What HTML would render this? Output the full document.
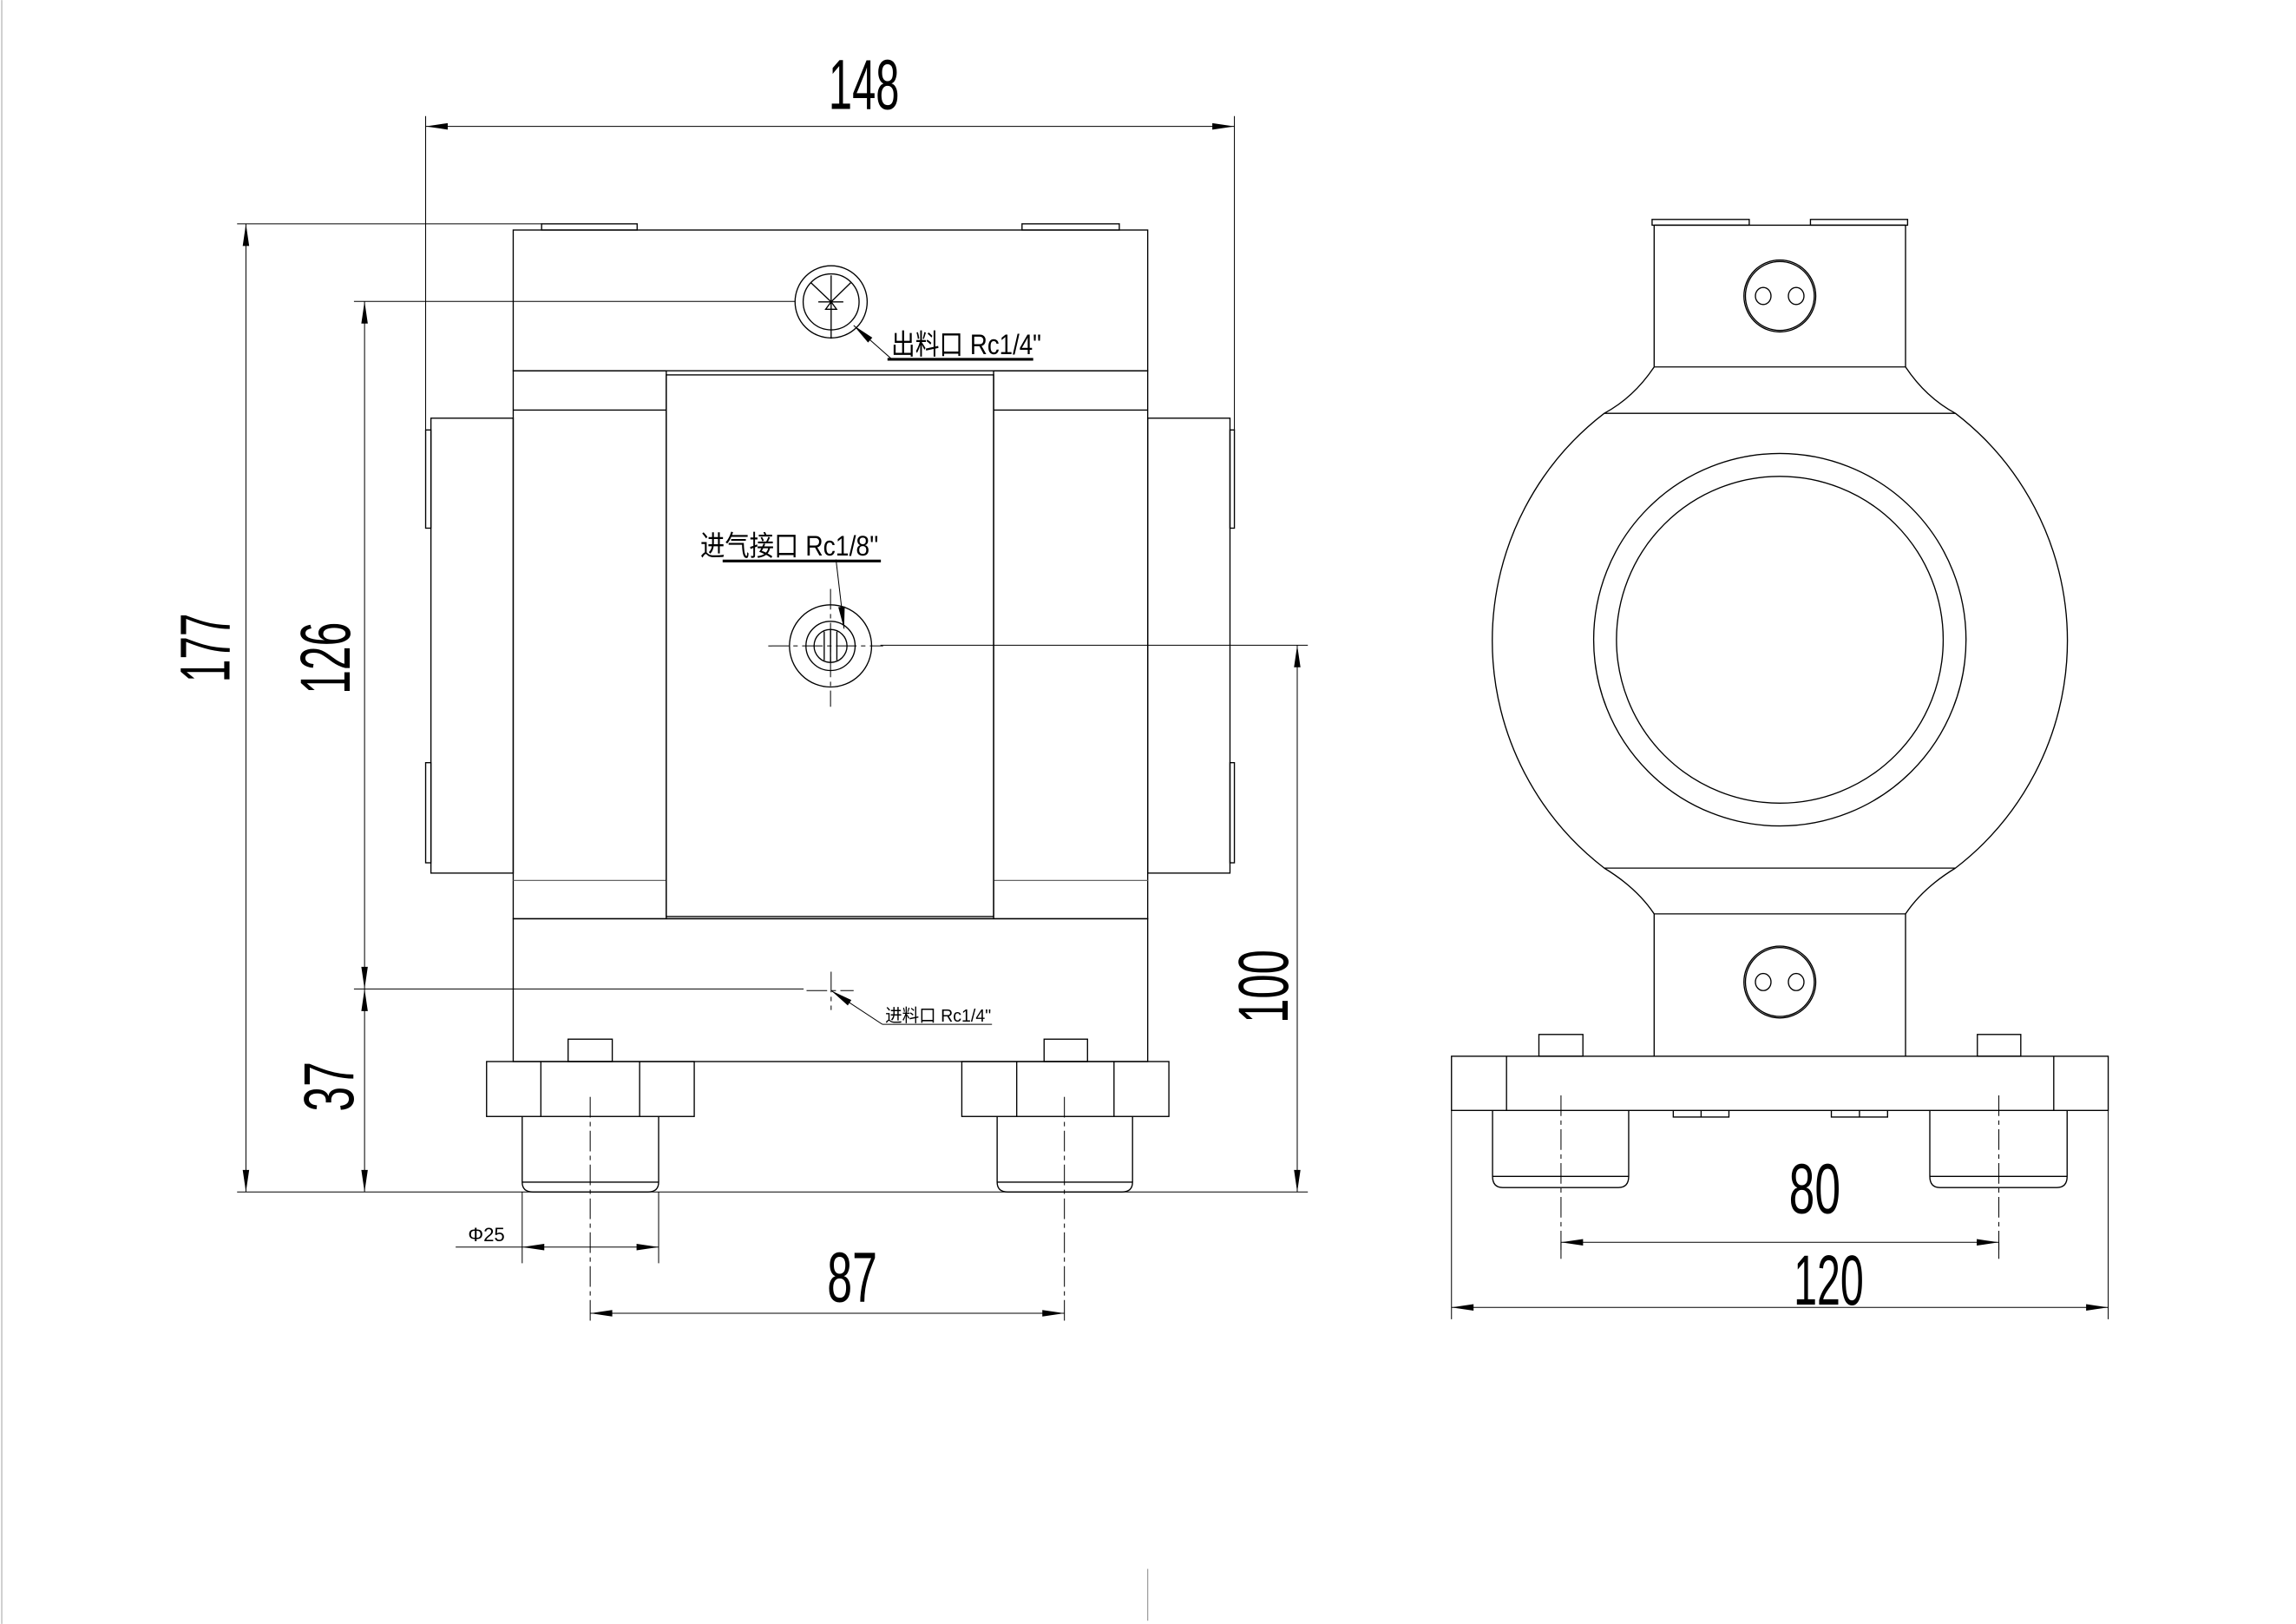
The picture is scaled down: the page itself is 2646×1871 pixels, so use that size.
<!DOCTYPE html>
<html><head><meta charset="utf-8"><style>
html,body{margin:0;padding:0;background:#fff;}
svg{display:block;}
text{font-family:"Liberation Sans","Noto Sans CJK SC",sans-serif;fill:#000;}
</style></head><body>
<svg width="2646" height="1871" viewBox="0 0 1560 1103" xmlns="http://www.w3.org/2000/svg">
<defs>
<marker id="ar" markerUnits="userSpaceOnUse" markerWidth="20" markerHeight="8" refX="0" refY="0" viewBox="-16 -4 17 8" orient="auto-start-reverse">
<path d="M0,0 L-15,-2.2 L-15,2.2 Z" fill="#000"/>
</marker>
</defs>
<rect width="1560" height="1103" fill="#fff"/>
<line x1="1.2" y1="0" x2="1.2" y2="1103" stroke="#bbb" stroke-width="0.8"/>
<line x1="779.8" y1="1065.6" x2="779.8" y2="1100.8" stroke="#999" stroke-width="0.7"/>

<g fill="none" stroke="#000" stroke-width="0.8">
<!-- LEFT VIEW -->
<rect x="348.7" y="156.2" width="431.1" height="95.6"/>
<rect x="368" y="152" width="64.9" height="4.2"/>
<rect x="694.4" y="152" width="66.1" height="4.2"/>
<rect x="348.7" y="251.8" width="104" height="372.2"/>
<rect x="675.1" y="251.8" width="104.7" height="372.2"/>
<line x1="348.7" y1="278.5" x2="452.7" y2="278.5"/>
<line x1="675.1" y1="278.5" x2="779.8" y2="278.5"/>
<line x1="348.7" y1="598" x2="452.7" y2="598" stroke="#666"/>
<line x1="675.1" y1="598" x2="779.8" y2="598" stroke="#666"/>
<rect x="452.7" y="254.6" width="222.4" height="367.9"/>
<line x1="452.7" y1="624" x2="675.1" y2="624"/>
<rect x="292.8" y="284" width="55.9" height="309"/>
<rect x="779.8" y="284" width="55.9" height="309"/>
<rect x="289.2" y="292" width="3.6" height="66.7"/>
<rect x="289.2" y="518" width="3.6" height="68"/>
<rect x="835.7" y="292" width="3" height="66.7"/>
<rect x="835.7" y="518" width="3" height="68"/>
<rect x="348.7" y="624" width="431.1" height="97"/>
<!-- feet left -->
<rect x="330.6" y="721" width="141.1" height="37.3"/>
<line x1="367.5" y1="721" x2="367.5" y2="758.3"/>
<line x1="434.6" y1="721" x2="434.6" y2="758.3"/>
<rect x="386" y="705.8" width="30" height="15.2"/>
<path d="M354.8,758.3 V802.9 Q354.8,809.6 362,809.6 H440.3 Q447.5,809.6 447.5,802.9 V758.3"/>
<line x1="354.8" y1="802.9" x2="447.5" y2="802.9"/>
<!-- feet right -->
<rect x="653.5" y="721" width="140.7" height="37.3"/>
<line x1="690.8" y1="721" x2="690.8" y2="758.3"/>
<line x1="756.9" y1="721" x2="756.9" y2="758.3"/>
<rect x="709.4" y="705.8" width="29.5" height="15.2"/>
<path d="M677.5,758.3 V802.9 Q677.5,809.6 684.7,809.6 H762.3 Q769.5,809.6 769.5,802.9 V758.3"/>
<line x1="677.5" y1="802.9" x2="769.5" y2="802.9"/>
<!-- outlet -->
<circle cx="564.7" cy="205" r="24.5"/>
<circle cx="564.7" cy="205" r="19"/>
<line x1="551" y1="192" x2="564.7" y2="205"/>
<line x1="578" y1="192" x2="564.7" y2="205"/>
<line x1="564.7" y1="187" x2="564.7" y2="230"/>
<line x1="556" y1="205" x2="573" y2="205"/>
<path d="M561,210 L564.7,205 L568.4,210 Z"/>
<!-- air inlet -->
<circle cx="564.3" cy="438.7" r="27.9"/>
<circle cx="564.3" cy="438.7" r="16.7"/>
<circle cx="564.3" cy="438.7" r="11.2"/>
<line x1="560" y1="429" x2="560" y2="448.5"/>
<line x1="564.3" y1="428" x2="564.3" y2="449.5"/>
<line x1="568.6" y1="429" x2="568.6" y2="448.5"/>
</g>

<!-- centre lines -->
<g fill="none" stroke="#000" stroke-width="0.6" stroke-dasharray="14 3 3 3">
<line x1="401" y1="745" x2="401" y2="899"/>
<line x1="723.2" y1="745" x2="723.2" y2="899"/>
<line x1="564.3" y1="400" x2="564.3" y2="480"/>
<line x1="522" y1="438.7" x2="600" y2="438.7"/>
<line x1="564.7" y1="660" x2="564.7" y2="686"/>
<line x1="548" y1="672.8" x2="580" y2="672.8"/>
<line x1="1060.6" y1="744" x2="1060.6" y2="849"/>
<line x1="1358.1" y1="744" x2="1358.1" y2="849"/>
</g>

<!-- dims left -->
<g fill="none" stroke="#000" stroke-width="0.6">
<line x1="289.2" y1="78.8" x2="289.2" y2="292"/>
<line x1="838.7" y1="78.8" x2="838.7" y2="292"/>
<line x1="289.2" y1="85.8" x2="838.7" y2="85.8" marker-start="url(#ar)" marker-end="url(#ar)"/>
<line x1="161.1" y1="152" x2="368" y2="152"/>
<line x1="161.1" y1="809.6" x2="888.6" y2="809.6"/>
<line x1="167.1" y1="152" x2="167.1" y2="809.6" marker-start="url(#ar)" marker-end="url(#ar)"/>
<line x1="240.5" y1="204.7" x2="540" y2="204.7"/>
<line x1="240.5" y1="671.7" x2="546" y2="671.7"/>
<line x1="247.7" y1="204.7" x2="247.7" y2="671.7" marker-start="url(#ar)" marker-end="url(#ar)"/>
<line x1="247.7" y1="671.7" x2="247.7" y2="809.6" marker-start="url(#ar)" marker-end="url(#ar)"/>
<line x1="598.2" y1="438.2" x2="888.6" y2="438.2"/>
<line x1="881.4" y1="438.2" x2="881.4" y2="809.6" marker-start="url(#ar)" marker-end="url(#ar)"/>
<line x1="354.8" y1="809.6" x2="354.8" y2="858"/>
<line x1="447.5" y1="809.6" x2="447.5" y2="858"/>
<line x1="309.6" y1="847" x2="354.8" y2="847"/>
<line x1="354.8" y1="847" x2="447.5" y2="847" marker-start="url(#ar)" marker-end="url(#ar)"/>
<line x1="401" y1="892" x2="723.2" y2="892" marker-start="url(#ar)" marker-end="url(#ar)"/>
<!-- leaders -->
<line x1="606" y1="244" x2="580" y2="221" marker-end="url(#ar)"/>
<line x1="568" y1="380" x2="573.5" y2="427" marker-end="url(#ar)"/>
<line x1="599.5" y1="695.7" x2="564.7" y2="672.8" marker-end="url(#ar)"/>
<line x1="599.5" y1="695.7" x2="674" y2="695.7"/>
</g>
<line x1="603" y1="244" x2="702" y2="244" stroke="#000" stroke-width="1.8"/>
<line x1="491" y1="381" x2="598.5" y2="381" stroke="#000" stroke-width="1.8"/>

<!-- RIGHT VIEW -->
<g fill="none" stroke="#000" stroke-width="0.8">
<rect x="1122.5" y="149" width="66" height="3.9"/>
<rect x="1230.1" y="149" width="66" height="3.9"/>
<line x1="1123.9" y1="152.9" x2="1294.7" y2="152.9"/>
<line x1="1123.9" y1="152.9" x2="1123.9" y2="249.2"/>
<line x1="1294.7" y1="152.9" x2="1294.7" y2="249.2"/>
<line x1="1123.9" y1="249.2" x2="1294.7" y2="249.2"/>
<circle cx="1209.3" cy="201" r="24.4"/>
<circle cx="1209.3" cy="201" r="23.4"/>
<ellipse cx="1198" cy="201" rx="5.3" ry="5.8"/>
<ellipse cx="1220.4" cy="201" rx="5.3" ry="5.8"/>
<path d="M1123.9,249.2 Q1110,270 1090,280.7 A194.8,194.8 0 0 0 1090,589.6 Q1112,603 1123.9,620.7"/>
<path d="M1294.7,249.2 Q1308.6,270 1328.6,280.7 A194.8,194.8 0 0 1 1328.6,589.6 Q1306.6,603 1294.7,620.7"/>
<line x1="1090" y1="280.7" x2="1328.6" y2="280.7"/>
<line x1="1090" y1="589.6" x2="1328.6" y2="589.6"/>
<circle cx="1209.3" cy="434.5" r="126.5"/>
<circle cx="1209.3" cy="434.5" r="111"/>
<line x1="1123.9" y1="620.7" x2="1294.7" y2="620.7"/>
<line x1="1123.9" y1="620.7" x2="1123.9" y2="717.4"/>
<line x1="1294.7" y1="620.7" x2="1294.7" y2="717.4"/>
<circle cx="1209.3" cy="667" r="24.4"/>
<circle cx="1209.3" cy="667" r="23.4"/>
<ellipse cx="1198" cy="667" rx="5.3" ry="5.8"/>
<ellipse cx="1220.4" cy="667" rx="5.3" ry="5.8"/>
<rect x="986.2" y="717.4" width="446.2" height="36.8"/>
<line x1="1023.6" y1="717.4" x2="1023.6" y2="754.2"/>
<line x1="1395.4" y1="717.4" x2="1395.4" y2="754.2"/>
<rect x="1045.6" y="702.6" width="29.9" height="14.8"/>
<rect x="1343.5" y="702.6" width="29.5" height="14.8"/>
<path d="M1014.1,754.2 V799 Q1014.1,806.6 1021,806.6 H1099.6 Q1106.6,806.6 1106.6,799 V754.2"/>
<line x1="1014.1" y1="799" x2="1106.6" y2="799"/>
<path d="M1311.2,754.2 V799 Q1311.2,806.6 1318,806.6 H1397.5 Q1404.5,806.6 1404.5,799 V754.2"/>
<line x1="1311.2" y1="799" x2="1404.5" y2="799"/>
<path d="M1136.9,754.2 V758.7 H1174.7 V754.2 M1155.8,754.2 V758.7"/>
<path d="M1244.3,754.2 V758.7 H1282.5 V754.2 M1263.4,754.2 V758.7"/>
</g>
<g fill="none" stroke="#000" stroke-width="0.6">
<line x1="1060.6" y1="843.8" x2="1060.6" y2="855"/>
<line x1="1358.1" y1="843.8" x2="1358.1" y2="855"/>
<line x1="1060.6" y1="843.8" x2="1358.1" y2="843.8" marker-start="url(#ar)" marker-end="url(#ar)"/>
<line x1="986.2" y1="754.2" x2="986.2" y2="896"/>
<line x1="1432.4" y1="754.2" x2="1432.4" y2="896"/>
<line x1="986.2" y1="888" x2="1432.4" y2="888" marker-start="url(#ar)" marker-end="url(#ar)"/>
</g>

<!-- TEXT -->
<g font-size="48">
<text x="587" y="74" text-anchor="middle" textLength="48" lengthAdjust="spacingAndGlyphs">148</text>
<text transform="translate(156,440) rotate(-90)" text-anchor="middle" textLength="47" lengthAdjust="spacingAndGlyphs">177</text>
<text transform="translate(237.6,447) rotate(-90)" text-anchor="middle" textLength="49" lengthAdjust="spacingAndGlyphs">126</text>
<text transform="translate(240,738) rotate(-90)" text-anchor="middle" textLength="34" lengthAdjust="spacingAndGlyphs">37</text>
<text transform="translate(875,670) rotate(-90)" text-anchor="middle" textLength="50" lengthAdjust="spacingAndGlyphs">100</text>
<text x="579" y="884" text-anchor="middle" textLength="34" lengthAdjust="spacingAndGlyphs">87</text>
<text x="1233" y="824" text-anchor="middle" textLength="35" lengthAdjust="spacingAndGlyphs">80</text>
<text x="1242.5" y="886" text-anchor="middle" textLength="47.6" lengthAdjust="spacingAndGlyphs">120</text>
</g>
<text x="318" y="843" font-size="13" textLength="25" lengthAdjust="spacingAndGlyphs">Φ25</text>
<text x="605.5" y="240.6" font-size="19" textLength="102" lengthAdjust="spacingAndGlyphs">出料口 Rc1/4"</text>
<text x="475.8" y="377.4" font-size="19" textLength="121" lengthAdjust="spacingAndGlyphs">进气接口 Rc1/8"</text>
<text x="601.4" y="694" font-size="12" textLength="72" lengthAdjust="spacingAndGlyphs">进料口 Rc1/4"</text>
</svg>
</body></html>
